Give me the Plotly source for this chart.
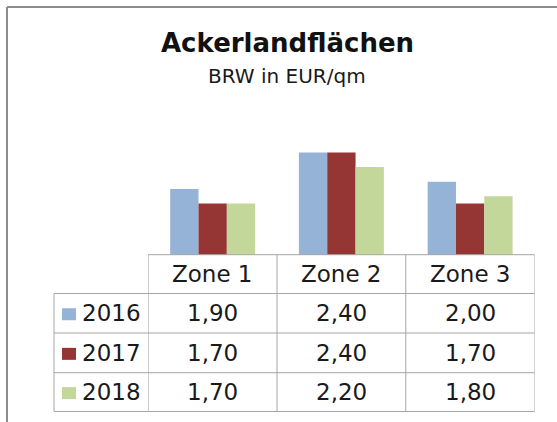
import plotly.graph_objects as go

# Bodenrichtwerte Ackerland je Zone und Jahr (EUR/qm)
zones = ["Zone 1", "Zone 2", "Zone 3"]
years = ["2016", "2017", "2018"]
values_2016 = [1.90, 2.40, 2.00]
values_2017 = [1.70, 2.40, 1.70]
values_2018 = [1.70, 2.20, 1.80]
series = [values_2016, values_2017, values_2018]
colors = ["#95B3D7", "#963634", "#C4D79B"]

W, H = 557, 422
FONT = "DejaVu Sans"
GRID = "#A6A6A6"
TXT = "#1A1A1A"

# pixel layout helpers (top-left origin -> paper coordinates)
def px(x):
    return x / W

def py(y):
    return 1 - y / H

plot_left, plot_right = 148.3, 534.5
plot_bottom, plot_top = 254.7, 145.2
table_left = 54.0
row_edges = [254.7, 293.5, 333.0, 372.7, 411.5]

fig = go.Figure()
for name, vals, col in zip(years, series, colors):
    fig.add_trace(go.Bar(x=zones, y=vals, name=name, marker=dict(color=col, line=dict(width=0)),
                         showlegend=False))

fig.update_layout(
    width=W, height=H,
    margin=dict(l=0, r=0, t=0, b=0),
    paper_bgcolor="white", plot_bgcolor="white",
    barmode="group", bargap=0.34, bargroupgap=0,
    xaxis=dict(domain=[px(plot_left), px(plot_right)], range=[-0.5, 2.5],
               showticklabels=False, showgrid=False, zeroline=False, showline=False, ticks=""),
    yaxis=dict(domain=[py(plot_bottom), py(plot_top)], range=[1.0, 2.5],
               showticklabels=False, showgrid=False, zeroline=False, showline=False, ticks=""),
    font=dict(family=FONT, color=TXT),
)

shapes = []
# outer frame (left and top edges)
shapes.append(dict(type="line", xref="paper", yref="paper", x0=px(7), x1=px(W + 5), y0=py(7), y1=py(7),
                   line=dict(color="#8C8C8C", width=2)))
shapes.append(dict(type="line", xref="paper", yref="paper", x0=px(7), x1=px(7), y0=py(7), y1=py(H + 5),
                   line=dict(color="#8C8C8C", width=2)))

# data table: horizontal rules
shapes.append(dict(type="line", xref="paper", yref="paper", x0=px(plot_left), x1=px(plot_right),
                   y0=py(row_edges[0]), y1=py(row_edges[0]), line=dict(color=GRID, width=1)))
for ry in row_edges[1:]:
    shapes.append(dict(type="line", xref="paper", yref="paper", x0=px(table_left), x1=px(plot_right),
                       y0=py(ry), y1=py(ry), line=dict(color=GRID, width=1)))
# data table: vertical rules at category boundaries
for i in range(len(zones) + 1):
    shapes.append(dict(type="line", xref="x", yref="paper", x0=i - 0.5, x1=i - 0.5,
                       y0=py(row_edges[0]), y1=py(row_edges[-1]), line=dict(color=GRID, width=1)))
shapes.append(dict(type="line", xref="paper", yref="paper", x0=px(table_left), x1=px(table_left),
                   y0=py(row_edges[1]), y1=py(row_edges[-1]), line=dict(color=GRID, width=1)))

annotations = []
# title and subtitle
annotations.append(dict(text="<b>Ackerlandflächen</b>", xref="paper", yref="paper", x=px(287), y=py(43),
                        xanchor="center", yanchor="middle", showarrow=False,
                        font=dict(family=FONT, size=26, color="#111111")))
annotations.append(dict(text="BRW in EUR/qm", xref="paper", yref="paper", x=px(287), y=py(76),
                        xanchor="center", yanchor="middle", showarrow=False,
                        font=dict(family=FONT, size=20, color="#1A1A1A")))

# header row with zone names
hdr_mid = (row_edges[0] + row_edges[1]) / 2
for z in zones:
    annotations.append(dict(text=z, xref="x", yref="paper", x=z, y=py(hdr_mid),
                            xanchor="center", yanchor="middle", showarrow=False,
                            font=dict(family=FONT, size=23, color=TXT)))

# value rows with legend keys
for r, (name, vals, col) in enumerate(zip(years, series, colors)):
    mid = (row_edges[r + 1] + row_edges[r + 2]) / 2
    shapes.append(dict(type="rect", xref="paper", yref="paper", x0=px(62), x1=px(76),
                       y0=py(mid - 5), y1=py(mid + 7), fillcolor=col, line=dict(width=0)))
    annotations.append(dict(text=name, xref="paper", yref="paper", x=px(80), y=py(mid),
                            xanchor="left", yanchor="middle", showarrow=False,
                            font=dict(family=FONT, size=23, color=TXT)))
    for z, v in zip(zones, vals):
        annotations.append(dict(text=f"{v:.2f}".replace(".", ","), xref="x", yref="paper", x=z, y=py(mid),
                                xanchor="center", yanchor="middle", showarrow=False,
                                font=dict(family=FONT, size=23, color=TXT)))

fig.update_layout(shapes=shapes, annotations=annotations)
fig.write_html("out.html")
